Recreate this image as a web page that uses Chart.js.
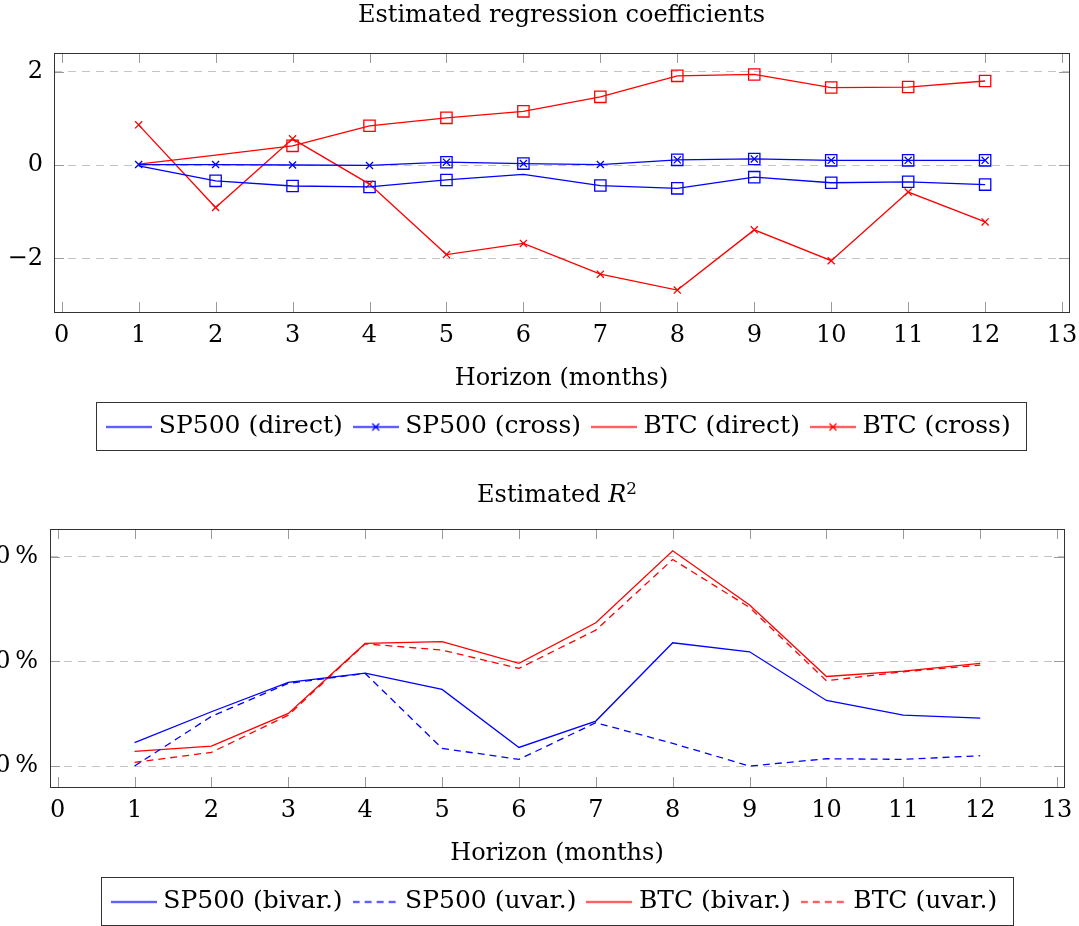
<!DOCTYPE html>
<html>
<head>
<meta charset="utf-8">
<script src="https://cdn.jsdelivr.net/npm/chart.js@4.4.1/dist/chart.umd.min.js"></script>
<style>
  html, body { margin: 0; padding: 0; background: #fff; overflow: hidden; }
  body { width: 1079px; height: 926px; position: relative; font-family: 'DejaVu Serif', serif; }
  .panel { position: absolute; left: 0; width: 1079px; }
  .panel canvas { position: absolute; left: 0; top: 0; }
  .title { position: absolute; text-align: center; font-size: 24px; line-height: 24px; color: #000; white-space: nowrap; }
  .title sup { font-size: 70%; line-height: 0; vertical-align: 0.5em; }
</style>
</head>
<body>
<div class="panel" style="top:0;height:463px">
  <canvas id="coef-chart" width="1079" height="463"></canvas>
  <div class="title" style="left:54px;width:1015px;top:2px">Estimated regression coefficients</div>
</div>
<div class="panel" style="top:463px;height:470px">
  <canvas id="r2-chart" width="1079" height="470"></canvas>
  <div class="title" style="left:50px;width:1014px;top:19px">Estimated <i>R</i><sup>2</sup></div>
</div>
<script>
// ---- data ----
const horizons = [1, 2, 3, 4, 5, 6, 7, 8, 9, 10, 11, 12];
const xTicks = [0, 1, 2, 3, 4, 5, 6, 7, 8, 9, 10, 11, 12, 13];

// regression coefficients
const sp500Direct = [-0.02, -0.34, -0.45, -0.47, -0.32, -0.2, -0.44, -0.5, -0.26, -0.38, -0.36, -0.42];
const sp500Cross = [0.01, 0.01, 0.0, -0.01, 0.06, 0.03, 0.01, 0.11, 0.13, 0.1, 0.1, 0.1];
const btcDirect = [0.02, 0.21, 0.41, 0.84, 1.01, 1.15, 1.46, 1.91, 1.94, 1.66, 1.67, 1.8];
const btcCross = [0.86, -0.91, 0.56, -0.41, -1.92, -1.68, -2.34, -2.68, -1.39, -2.05, -0.58, -1.22];

// points marked with a square
const sp500DirectSig = [0, 1, 1, 1, 1, 0, 1, 1, 1, 1, 1, 1];
const sp500CrossSig = [0, 0, 0, 0, 1, 1, 0, 1, 1, 1, 1, 1];
const btcDirectSig = [0, 0, 1, 1, 1, 1, 1, 1, 1, 1, 1, 1];

const coefYTicks = [-2, 0, 2];

// R^2 in percent
const sp500Bivar = [2.23, 5.19, 7.99, 8.88, 7.32, 1.78, 4.3, 11.78, 10.92, 6.27, 4.87, 4.58];
const sp500Uvar = [0.0, 4.75, 7.9, 8.85, 1.69, 0.64, 4.14, 2.17, 0.0, 0.7, 0.64, 0.99];
const btcBivar = [1.4, 1.91, 5.03, 11.72, 11.88, 9.81, 13.69, 20.57, 15.38, 8.56, 9.07, 9.81];
const btcUvar = [0.35, 1.31, 4.87, 11.68, 11.08, 9.33, 12.99, 19.74, 15.15, 8.15, 9.01, 9.65];

const r2YTicks = [0, 10, 20];

const BLUE = '#0000ff';
const RED = '#ff0000';

Chart.defaults.font.family = "'DejaVu Serif', serif";
Chart.defaults.font.size = 24;
Chart.defaults.color = '#000';
Chart.defaults.animation = false;

function points(values) {
  return horizons.map((h, i) => ({ x: h, y: values[i] }));
}

function marked(values, flags) {
  return horizons.map((h, i) => ({ x: h, y: flags[i] ? values[i] : null }));
}

// small legend sample: line (solid or dashed) with optional x marker
function legendSample(color, dashed, cross) {
  const c = document.createElement('canvas');
  c.width = 46;
  c.height = 20;
  const g = c.getContext('2d');
  g.strokeStyle = color;
  g.lineWidth = 1.3;
  if (dashed) g.setLineDash([7, 5]);
  g.beginPath();
  g.moveTo(0, 10.5);
  g.lineTo(46, 10.5);
  g.stroke();
  if (cross) {
    g.setLineDash([]);
    g.beginPath();
    g.moveTo(19.5, 7);
    g.lineTo(26.5, 14);
    g.moveTo(26.5, 7);
    g.lineTo(19.5, 14);
    g.stroke();
  }
  return c;
}

// inward ticks, frame and a box round the legend
const framePlugin = {
  id: 'frame',
  afterDraw(chart) {
    const { ctx, chartArea: a, scales } = chart;
    ctx.save();
    ctx.lineWidth = 1;
    ctx.strokeStyle = '#9a9a9a';
    ctx.beginPath();
    scales.x.ticks.forEach((t) => {
      const px = Math.round(scales.x.getPixelForValue(t.value)) + 0.5;
      ctx.moveTo(px, a.bottom);
      ctx.lineTo(px, a.bottom - 10);
      ctx.moveTo(px, a.top);
      ctx.lineTo(px, a.top + 10);
    });
    scales.y.ticks.forEach((t) => {
      const py = Math.round(scales.y.getPixelForValue(t.value)) + 0.5;
      ctx.moveTo(a.left, py);
      ctx.lineTo(a.left + 10, py);
      ctx.moveTo(a.right, py);
      ctx.lineTo(a.right - 10, py);
    });
    ctx.stroke();

    ctx.strokeStyle = '#333';
    ctx.strokeRect(Math.round(a.left) + 0.5, Math.round(a.top) + 0.5,
      Math.round(a.right - a.left), Math.round(a.bottom - a.top));

    const boxes = chart.legend.legendHitBoxes;
    if (boxes && boxes.length) {
      const left = Math.min(...boxes.map((b) => b.left)) - 6 - 10;
      const right = Math.max(...boxes.map((b) => b.left + b.width)) + 16;
      const top = boxes[0].top - 12;
      const bottom = boxes[0].top + boxes[0].height + 11;
      ctx.strokeRect(Math.round(left) + 0.5, Math.round(top) + 0.5,
        Math.round(right - left), Math.round(bottom - top));
    }
    ctx.restore();
  },
};

function lineSet(label, values, color, extra = {}) {
  return Object.assign({
    label,
    data: points(values),
    borderColor: color,
    backgroundColor: color,
    borderWidth: 1.3,
    pointRadius: 0,
    tension: 0,
  }, extra);
}

function squareSet(values, flags, color) {
  return {
    label: '',
    data: marked(values, flags),
    showLine: false,
    borderColor: color,
    backgroundColor: 'transparent',
    pointStyle: 'rect',
    pointRadius: 8,
    pointBorderWidth: 1.3,
  };
}

function baseOptions(padding, yWidth, yPad, yTicks, yMin, yMax, yFormat) {
  return {
    responsive: false,
    devicePixelRatio: 1,
    events: [],
    layout: { padding },
    plugins: {
      tooltip: { enabled: false },
      legend: {
        position: 'bottom',
        fullSize: false,
        labels: {
          usePointStyle: true,
          pointStyleWidth: 34,
          boxHeight: 20,
          padding: 16,
          font: { size: 25 },
          generateLabels: (chart) =>
            chart.data.datasets
              .map((ds, i) => ({ ds, i }))
              .filter(({ ds }) => ds.sample)
              .map(({ ds, i }) => ({
                text: ds.label,
                pointStyle: ds.sample,
                fillStyle: ds.borderColor,
                strokeStyle: ds.borderColor,
                lineWidth: 0,
                hidden: false,
                datasetIndex: i,
              })),
        },
      },
    },
    scales: {
      x: {
        type: 'linear',
        min: -0.1,
        max: 13.09,
        grid: { display: false },
        border: { display: false },
        ticks: { padding: 1, font: { size: 24 }, callback: (v) => v },
        afterBuildTicks: (scale) => {
          scale.ticks = xTicks.map((v) => ({ value: v }));
        },
        afterFit: (scale) => {
          scale.height = 86;
          scale.paddingLeft = 0;
          scale.paddingRight = 0;
        },
        title: {
          display: true,
          text: 'Horizon (months)',
          font: { size: 24 },
          padding: { top: 0, bottom: 5 },
        },
      },
      y: {
        min: yMin,
        max: yMax,
        grid: { color: '#c4c4c4', lineWidth: 1, drawTicks: false },
        border: { display: false, dash: [8, 6] },
        ticks: { padding: yPad, font: { size: 24 }, callback: yFormat },
        afterBuildTicks: (scale) => {
          scale.ticks = yTicks.map((v) => ({ value: v }));
        },
        afterFit: (scale) => {
          scale.width = yWidth;
        },
      },
    },
  };
}

new Chart(document.getElementById('coef-chart'), {
  type: 'line',
  data: {
    datasets: [
      lineSet('SP500 (direct)', sp500Direct, BLUE, { sample: legendSample(BLUE, false, false) }),
      lineSet('SP500 (cross)', sp500Cross, BLUE, {
        sample: legendSample(BLUE, false, true),
        pointStyle: 'crossRot', pointRadius: 5, pointBorderWidth: 1.3,
      }),
      lineSet('BTC (direct)', btcDirect, RED, { sample: legendSample(RED, false, false) }),
      lineSet('BTC (cross)', btcCross, RED, {
        sample: legendSample(RED, false, true),
        pointStyle: 'crossRot', pointRadius: 5, pointBorderWidth: 1.3,
      }),
      squareSet(sp500Direct, sp500DirectSig, BLUE),
      squareSet(sp500Cross, sp500CrossSig, BLUE),
      squareSet(btcDirect, btcDirectSig, RED),
    ],
  },
  options: baseOptions({ top: 53, left: 0, right: 10, bottom: 14 }, 54, 11, coefYTicks, -3.15, 2.4,
    (v) => (v < 0 ? '\u2212' + Math.abs(v) : String(v))),
  plugins: [framePlugin],
});

new Chart(document.getElementById('r2-chart'), {
  type: 'line',
  data: {
    datasets: [
      lineSet('SP500 (bivar.)', sp500Bivar, BLUE, { sample: legendSample(BLUE, false, false) }),
      lineSet('SP500 (uvar.)', sp500Uvar, BLUE, { sample: legendSample(BLUE, true, false), borderDash: [7, 5] }),
      lineSet('BTC (bivar.)', btcBivar, RED, { sample: legendSample(RED, false, false) }),
      lineSet('BTC (uvar.)', btcUvar, RED, { sample: legendSample(RED, true, false), borderDash: [7, 5] }),
    ],
  },
  options: baseOptions({ top: 66, left: 0, right: 15, bottom: 9 }, 50, 12, r2YTicks, -2.0, 22.65,
    (v) => v + '\u2009%'),
  plugins: [framePlugin],
});
</script>
</body>
</html>
